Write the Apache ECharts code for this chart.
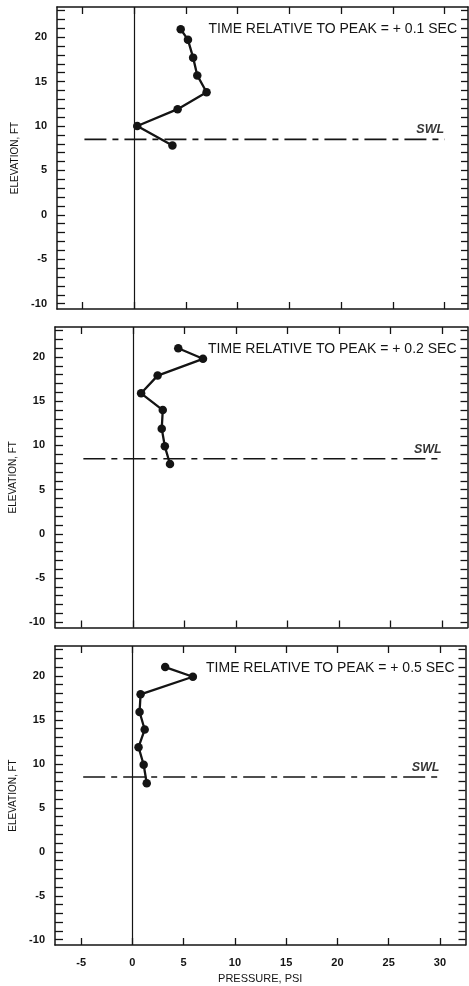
<!DOCTYPE html>
<html><head><meta charset="utf-8">
<script src="https://cdn.jsdelivr.net/npm/echarts@6/dist/echarts.min.js"></script>
<style>html,body{margin:0;padding:0;background:#fff}#c{width:469px;height:986px}</style>
</head><body><div id="c"></div>
<script>
// ---- data ----
const pressure1 = [4.5, 5.2, 5.7, 6.1, 7.0, 4.2, 0.3, 3.7];
const elev1     = [20.9, 19.7, 17.7, 15.7, 13.8, 11.9, 10.0, 7.8];
const pressure2 = [4.4, 6.8, 2.4, 0.8, 2.9, 2.8, 3.1, 3.6];
const elev2     = [21.0, 19.8, 17.9, 15.9, 14.0, 11.9, 9.9, 7.9];
const pressure3 = [3.2, 5.9, 0.8, 0.7, 1.2, 0.6, 1.1, 1.4];
const elev3     = [21.0, 19.9, 17.9, 15.9, 13.9, 11.9, 9.9, 7.8];
const panelTitles = ['TIME RELATIVE TO PEAK = + 0.1 SEC', 'TIME RELATIVE TO PEAK = + 0.2 SEC', 'TIME RELATIVE TO PEAK = + 0.5 SEC'];
const xTickValues = [-5, 0, 5, 10, 15, 20, 25, 30];
const yLabelValues = [-10, -5, 0, 5, 10, 15, 20];
const yTickValues = [-10, -9, -8, -7, -6, -5, -4, -3, -2, -1, 0, 1, 2, 3, 4, 5, 6, 7, 8, 9, 10, 11, 12, 13, 14, 15, 16, 17, 18, 19, 20, 21, 22, 23];
const swlElevation = 8.5;
const swlPressureRange = [-4.8, 30];
const swlLabelPressure = 28.6;
const xLabel = 'PRESSURE, PSI';
const yLabel = 'ELEVATION, FT';

// ---- layout ----
const grids = [
  {left: 57, top: 7, width: 411, height: 302, xmin: -7.45, xmax: 32.25},
  {left: 53.5, top: 327, width: 414, height: 300.5, xmin: -7.55, xmax: 32.45},
  {left: 51, top: 646, width: 414.5, height: 299, xmin: -7.55, xmax: 32.5}
];
const ymin = -10.6, ymax = 23.4;
const ink = '#141414';
const font = '"Liberation Sans", Arial, sans-serif';
const pressures = [pressure1, pressure2, pressure3];
const elevs = [elev1, elev2, elev3];

const option = {animation: false, backgroundColor: '#fff', grid: [], xAxis: [], yAxis: [], series: [], title: []};

grids.forEach((g, i) => {
  option.grid.push({left: g.left, top: g.top, width: g.width, height: g.height, show: false});
  const last = i === grids.length - 1;
  const axLine = {show: true, onZero: false, lineStyle: {color: ink, width: 1.5}};
  // bottom x
  option.xAxis.push({
    type: 'value', gridIndex: i, position: 'bottom', min: g.xmin, max: g.xmax,
    axisLine: axLine, splitLine: {show: false},
    axisTick: {show: true, inside: true, length: 7, customValues: xTickValues, lineStyle: {color: ink, width: 1.3}},
    axisLabel: {show: last, customValues: xTickValues, color: ink, fontFamily: font, fontSize: 11, fontWeight: 'bold', margin: 12},
    name: last ? xLabel : '', nameLocation: 'middle', nameGap: 28,
    nameTextStyle: {color: ink, fontFamily: font, fontSize: 11}
  });
  // top x
  option.xAxis.push({
    type: 'value', gridIndex: i, position: 'top', min: g.xmin, max: g.xmax,
    axisLine: axLine, splitLine: {show: false},
    axisTick: {show: true, inside: true, length: 7, customValues: xTickValues, lineStyle: {color: ink, width: 1.3}},
    axisLabel: {show: false}
  });
  // left y
  option.yAxis.push({
    type: 'value', gridIndex: i, position: 'left', min: ymin, max: ymax,
    axisLine: axLine, splitLine: {show: false},
    axisTick: {show: true, inside: true, length: 8, customValues: yTickValues, lineStyle: {color: ink, width: 1.3}},
    axisLabel: {show: true, customValues: yLabelValues, color: ink, fontFamily: font, fontSize: 11, fontWeight: 'bold', margin: 10},
    name: yLabel, nameLocation: 'middle', nameGap: 37, nameRotate: 90,
    nameTextStyle: {color: ink, fontFamily: font, fontSize: 10}
  });
  // right y
  option.yAxis.push({
    type: 'value', gridIndex: i, position: 'right', min: ymin, max: ymax,
    axisLine: axLine, splitLine: {show: false},
    axisTick: {show: true, inside: true, length: 7, customValues: yTickValues, lineStyle: {color: ink, width: 1.3}},
    axisLabel: {show: false}
  });

  const xb = 2 * i, yl = 2 * i;
  // pressure profile
  option.series.push({
    type: 'line', xAxisIndex: xb, yAxisIndex: yl,
    data: pressures[i].map((p, k) => [p, elevs[i][k]]),
    symbol: 'circle', symbolSize: 8.5,
    itemStyle: {color: ink}, lineStyle: {color: ink, width: 2.3},
    z: 5,
    markLine: {
      silent: true, symbol: 'none', label: {show: false},
      lineStyle: {color: ink, width: 1.2, type: 'solid'},
      data: [{xAxis: 0}]
    }
  });
  // SWL line (dash-dot)
  option.series.push({
    type: 'line', xAxisIndex: xb, yAxisIndex: yl,
    data: [[swlPressureRange[0], swlElevation], [swlPressureRange[1], swlElevation]],
    symbol: 'none', lineStyle: {color: ink, width: 1.6, type: [22, 6, 6, 6]}, z: 3
  });
  // SWL label
  option.series.push({
    type: 'scatter', xAxisIndex: xb, yAxisIndex: yl,
    data: [[swlLabelPressure, swlElevation]], symbolSize: 0,
    label: {show: true, position: 'top', distance: 3, formatter: 'SWL', color: '#000',
      fontFamily: font, fontSize: 12.5, fontStyle: 'italic', fontWeight: 'bold'}
  });
  // title text
  option.title.push({
    text: panelTitles[i], right: 469 - (g.left + g.width) + 6, top: g.top + 10,
    textStyle: {color: ink, fontFamily: font, fontSize: 14, fontWeight: 'normal'}
  });
});

const chart = echarts.init(document.getElementById('c'), null, {renderer: 'canvas'});
chart.setOption(option);
</script>
</body></html>
